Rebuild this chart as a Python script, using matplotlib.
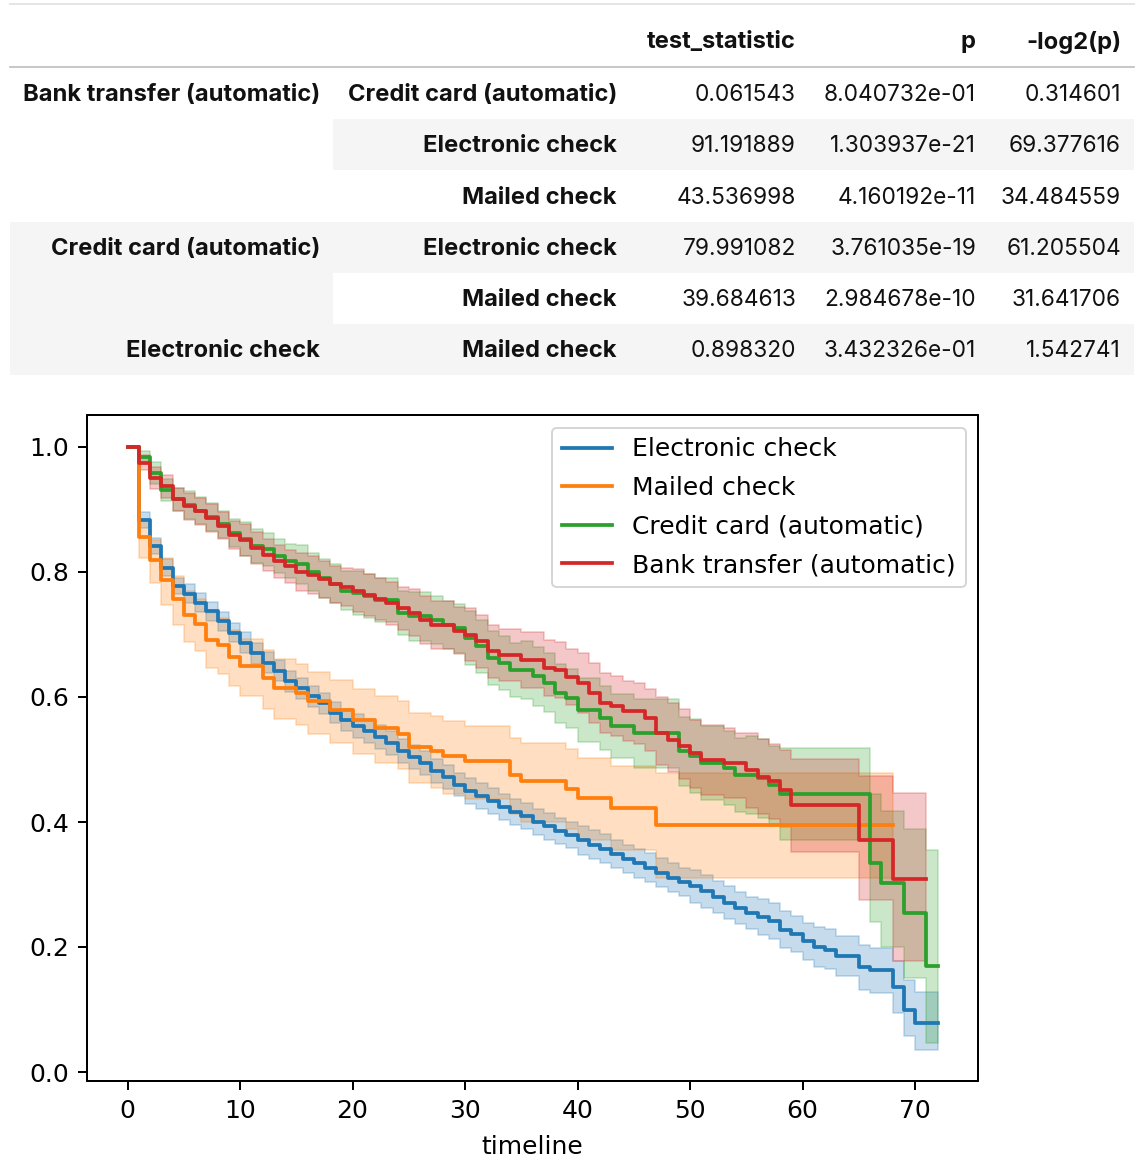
import matplotlib.pyplot as plt
from matplotlib.patches import Rectangle

W, H = 1148, 1174

# ---------------- table data (pairwise logrank test) ----------------
columns = ["test_statistic", "p", "-log2(p)"]
level0 = ["Bank transfer (automatic)", "", "", "Credit card (automatic)", "", "Electronic check"]
level1 = ["Credit card (automatic)", "Electronic check", "Mailed check",
          "Electronic check", "Mailed check", "Mailed check"]
test_statistic = [0.061543, 91.191889, 43.536998, 79.991082, 39.684613, 0.898320]
p_values = [8.040732e-01, 1.303937e-21, 4.160192e-11, 3.761035e-19, 2.984678e-10, 3.432326e-01]
neg_log2_p = [0.314601, 69.377616, 34.484559, 61.205504, 31.641706, 1.542741]

# ---------------- Kaplan-Meier curves ----------------
labels = ["Electronic check", "Mailed check", "Credit card (automatic)", "Bank transfer (automatic)"]
colors = ["#1f77b4", "#ff7f0e", "#2ca02c", "#d62728"]

ec_t = list(range(73))
ec_s = [1.000, 0.883, 0.842, 0.807, 0.778, 0.765, 0.751, 0.737, 0.721, 0.703,
        0.687, 0.670, 0.655, 0.642, 0.625, 0.614, 0.601, 0.590, 0.575, 0.563,
        0.553, 0.545, 0.536, 0.526, 0.514, 0.504, 0.494, 0.482, 0.472, 0.460,
        0.449, 0.441, 0.433, 0.424, 0.416, 0.409, 0.400, 0.393, 0.386, 0.379,
        0.371, 0.364, 0.357, 0.349, 0.341, 0.334, 0.327, 0.319, 0.311, 0.304,
        0.297, 0.289, 0.280, 0.271, 0.262, 0.254, 0.248, 0.241, 0.228, 0.221,
        0.209, 0.200, 0.196, 0.185, 0.185, 0.168, 0.163, 0.163, 0.136, 0.099,
        0.078, 0.078, 0.078]
ec_lo = [1.000, 0.870, 0.829, 0.794, 0.765, 0.750, 0.736, 0.722, 0.706, 0.688,
         0.670, 0.653, 0.638, 0.625, 0.608, 0.597, 0.584, 0.573, 0.558, 0.546,
         0.534, 0.526, 0.517, 0.507, 0.495, 0.485, 0.475, 0.463, 0.453, 0.441,
         0.428, 0.420, 0.412, 0.403, 0.395, 0.388, 0.379, 0.372, 0.365, 0.358,
         0.348, 0.341, 0.334, 0.326, 0.318, 0.311, 0.304, 0.296, 0.288, 0.281,
         0.271, 0.263, 0.254, 0.245, 0.236, 0.228, 0.219, 0.212, 0.199, 0.192,
         0.180, 0.168, 0.164, 0.153, 0.153, 0.132, 0.127, 0.127, 0.094, 0.057,
         0.035, 0.035, 0.035]
ec_hi = [1.000, 0.896, 0.855, 0.820, 0.791, 0.780, 0.766, 0.752, 0.736, 0.718,
         0.704, 0.687, 0.672, 0.659, 0.642, 0.631, 0.618, 0.607, 0.592, 0.580,
         0.572, 0.564, 0.555, 0.545, 0.533, 0.523, 0.513, 0.501, 0.491, 0.479,
         0.470, 0.462, 0.454, 0.445, 0.437, 0.430, 0.421, 0.414, 0.407, 0.400,
         0.394, 0.387, 0.380, 0.372, 0.364, 0.357, 0.350, 0.342, 0.334, 0.327,
         0.323, 0.315, 0.306, 0.297, 0.288, 0.280, 0.277, 0.270, 0.257, 0.250,
         0.238, 0.232, 0.228, 0.217, 0.217, 0.204, 0.199, 0.199, 0.178, 0.148,
         0.128, 0.128, 0.128]

mc_t = list(range(48)) + [68]
mc_s = [1.000, 0.856, 0.819, 0.787, 0.756, 0.731, 0.717, 0.692, 0.683, 0.664,
        0.649, 0.649, 0.630, 0.614, 0.614, 0.606, 0.593, 0.593, 0.579, 0.579,
        0.563, 0.563, 0.550, 0.550, 0.541, 0.520, 0.520, 0.514, 0.505, 0.505,
        0.497, 0.497, 0.497, 0.497, 0.475, 0.465, 0.465, 0.465, 0.465, 0.453,
        0.438, 0.438, 0.438, 0.422, 0.422, 0.422, 0.422, 0.395, 0.395]
mc_lo = [1.000, 0.822, 0.782, 0.748, 0.715, 0.688, 0.673, 0.646, 0.637, 0.617,
         0.601, 0.601, 0.581, 0.564, 0.564, 0.555, 0.541, 0.541, 0.526, 0.526,
         0.509, 0.509, 0.495, 0.495, 0.485, 0.462, 0.462, 0.455, 0.445, 0.445,
         0.436, 0.436, 0.436, 0.436, 0.412, 0.400, 0.400, 0.400, 0.400, 0.388,
         0.372, 0.372, 0.372, 0.355, 0.355, 0.355, 0.355, 0.310, 0.310]
mc_hi = [1.000, 0.885, 0.851, 0.822, 0.793, 0.770, 0.757, 0.734, 0.726, 0.708,
         0.693, 0.693, 0.675, 0.660, 0.660, 0.652, 0.640, 0.640, 0.627, 0.627,
         0.613, 0.613, 0.601, 0.601, 0.593, 0.574, 0.574, 0.569, 0.561, 0.561,
         0.553, 0.553, 0.553, 0.553, 0.535, 0.526, 0.526, 0.526, 0.526, 0.516,
         0.503, 0.503, 0.503, 0.489, 0.489, 0.489, 0.489, 0.478, 0.478]

cc_t = list(range(59)) + [66, 67, 69, 71, 72]
cc_s = [1.000, 0.984, 0.958, 0.931, 0.916, 0.907, 0.898, 0.888, 0.876, 0.862,
        0.853, 0.842, 0.836, 0.826, 0.818, 0.812, 0.800, 0.790, 0.781, 0.770,
        0.766, 0.761, 0.755, 0.755, 0.734, 0.729, 0.729, 0.723, 0.715, 0.710,
        0.694, 0.681, 0.662, 0.654, 0.643, 0.643, 0.633, 0.623, 0.606, 0.598,
        0.579, 0.579, 0.566, 0.554, 0.554, 0.542, 0.542, 0.542, 0.542, 0.513,
        0.505, 0.494, 0.494, 0.486, 0.475, 0.475, 0.470, 0.459, 0.445,
        0.334, 0.302, 0.255, 0.170, 0.170]
cc_lo = [1.000, 0.974, 0.940, 0.913, 0.898, 0.885, 0.876, 0.866, 0.854, 0.840,
         0.826, 0.815, 0.809, 0.799, 0.791, 0.781, 0.769, 0.759, 0.750, 0.739,
         0.731, 0.726, 0.720, 0.720, 0.699, 0.690, 0.690, 0.684, 0.676, 0.671,
         0.651, 0.638, 0.619, 0.611, 0.600, 0.596, 0.586, 0.576, 0.559, 0.551,
         0.528, 0.528, 0.515, 0.503, 0.503, 0.487, 0.487, 0.487, 0.487, 0.458,
         0.446, 0.435, 0.435, 0.427, 0.416, 0.412, 0.407, 0.396, 0.372,
         0.240, 0.200, 0.150, 0.046, 0.046]
cc_hi = [1.000, 0.994, 0.976, 0.949, 0.934, 0.929, 0.920, 0.910, 0.898, 0.884,
         0.880, 0.869, 0.863, 0.853, 0.845, 0.843, 0.831, 0.821, 0.812, 0.801,
         0.801, 0.796, 0.790, 0.790, 0.769, 0.768, 0.768, 0.762, 0.754, 0.749,
         0.737, 0.724, 0.705, 0.697, 0.686, 0.690, 0.680, 0.670, 0.653, 0.645,
         0.630, 0.630, 0.617, 0.605, 0.605, 0.597, 0.597, 0.597, 0.597, 0.568,
         0.564, 0.553, 0.553, 0.545, 0.534, 0.538, 0.533, 0.522, 0.518,
         0.445, 0.418, 0.388, 0.355, 0.355]

bt_t = list(range(60)) + [65, 68, 71]
bt_s = [1.000, 0.975, 0.950, 0.937, 0.916, 0.905, 0.897, 0.886, 0.874, 0.859,
        0.851, 0.838, 0.827, 0.817, 0.809, 0.800, 0.795, 0.788, 0.780, 0.776,
        0.770, 0.763, 0.757, 0.750, 0.742, 0.735, 0.723, 0.715, 0.715, 0.706,
        0.700, 0.689, 0.673, 0.667, 0.667, 0.659, 0.659, 0.646, 0.643, 0.632,
        0.623, 0.606, 0.590, 0.585, 0.577, 0.577, 0.566, 0.543, 0.532, 0.521,
        0.510, 0.499, 0.499, 0.494, 0.494, 0.483, 0.472, 0.465, 0.452, 0.427,
        0.372, 0.309, 0.309]
bt_lo = [1.000, 0.963, 0.932, 0.919, 0.898, 0.883, 0.875, 0.864, 0.852, 0.837,
         0.825, 0.812, 0.801, 0.791, 0.783, 0.770, 0.765, 0.758, 0.750, 0.746,
         0.736, 0.729, 0.723, 0.716, 0.708, 0.697, 0.685, 0.677, 0.677, 0.668,
         0.658, 0.647, 0.631, 0.625, 0.625, 0.614, 0.614, 0.601, 0.598, 0.587,
         0.575, 0.558, 0.542, 0.537, 0.529, 0.525, 0.514, 0.491, 0.480, 0.469,
         0.454, 0.443, 0.443, 0.438, 0.438, 0.423, 0.412, 0.405, 0.392, 0.352,
         0.275, 0.178, 0.178]
bt_hi = [1.000, 0.987, 0.968, 0.955, 0.934, 0.927, 0.919, 0.908, 0.896, 0.881,
         0.877, 0.864, 0.853, 0.843, 0.835, 0.830, 0.825, 0.818, 0.810, 0.806,
         0.804, 0.797, 0.791, 0.784, 0.776, 0.773, 0.761, 0.753, 0.753, 0.744,
         0.742, 0.731, 0.715, 0.709, 0.709, 0.704, 0.704, 0.691, 0.688, 0.677,
         0.671, 0.654, 0.638, 0.633, 0.625, 0.622, 0.612, 0.600, 0.590, 0.580,
         0.563, 0.555, 0.555, 0.550, 0.542, 0.542, 0.532, 0.525, 0.515, 0.500,
         0.474, 0.446, 0.446]

curves = [(ec_t, ec_s, ec_lo, ec_hi), (mc_t, mc_s, mc_lo, mc_hi),
          (cc_t, cc_s, cc_lo, cc_hi), (bt_t, bt_s, bt_lo, bt_hi)]

fig = plt.figure(figsize=(W / 100, H / 100), dpi=100)

# ---------------- table drawn in pixel coordinates ----------------
tab = fig.add_axes([0, 0, 1, 1])
tab.set_xlim(0, W)
tab.set_ylim(H, 0)
tab.axis("off")

shade = "#f5f5f5"
left, split, right = 10, 333, 1134
row_top, row_h = 68, 51.2
tfont = ["Inter", "DejaVu Sans"]
fs = 16.3       # numbers
fs_b = 17.1     # bold labels
ink = "#111111"

tab.plot([left, right], [4, 4], color="#e0e0e0", lw=1.2)
tab.plot([left, right], [67, 67], color="#bdbdbd", lw=1.2)

col_right = [796, 976, 1121]
for x, name in zip(col_right, columns):
    tab.text(x, 42, name, ha="right", va="center", fontsize=fs_b, fontweight="bold",
             family=tfont, color=ink)

group_start = 0
for i in range(len(level1)):
    y0 = row_top + i * row_h
    if level0[i]:
        group_start = i
    if i % 2 == 1:
        tab.add_patch(Rectangle((split, y0), right - split, row_h, color=shade, lw=0))
    if group_start % 2 == 1:
        tab.add_patch(Rectangle((left, y0), split - left, row_h, color=shade, lw=0))
    yc = y0 + row_h / 2 + 1.5
    if level0[i]:
        tab.text(320, yc, level0[i], ha="right", va="center", fontsize=fs_b, fontweight="bold",
                 family=tfont, color=ink)
    tab.text(617, yc, level1[i], ha="right", va="center", fontsize=fs_b, fontweight="bold",
             family=tfont, color=ink)
    cells = [f"{test_statistic[i]:.6f}", f"{p_values[i]:.6e}", f"{neg_log2_p[i]:.6f}"]
    for x, s in zip(col_right, cells):
        tab.text(x, yc, s, ha="right", va="center", fontsize=fs, family=tfont, color=ink)

# ---------------- survival plot ----------------
ax = fig.add_axes([87 / W, 1 - 1081 / H, (978 - 87) / W, (1081 - 415) / H])
for (t, s, lo, hi), lab, c in zip(curves, labels, colors):
    ax.step(t, s, where="post", color=c, lw=2.7, label=lab)
    ax.fill_between(t, lo, hi, step="post", color=c, alpha=0.25, lw=1.2)

ax.set_xlim(-3.6, 75.6)
ax.set_ylim(-0.0144, 1.0512)
ax.set_xticks([0, 10, 20, 30, 40, 50, 60, 70])
ax.set_yticks([0.0, 0.2, 0.4, 0.6, 0.8, 1.0])
ax.tick_params(labelsize=18, length=6.3, width=1.44, pad=6.3)
for sp in ax.spines.values():
    sp.set_linewidth(1.44)
ax.set_xlabel("timeline", fontsize=18, labelpad=9)
leg = ax.legend(loc="upper right", fontsize=18, labelspacing=0.58)
leg.get_frame().set_linewidth(1.44)

fig.savefig("out.png", dpi=100)
